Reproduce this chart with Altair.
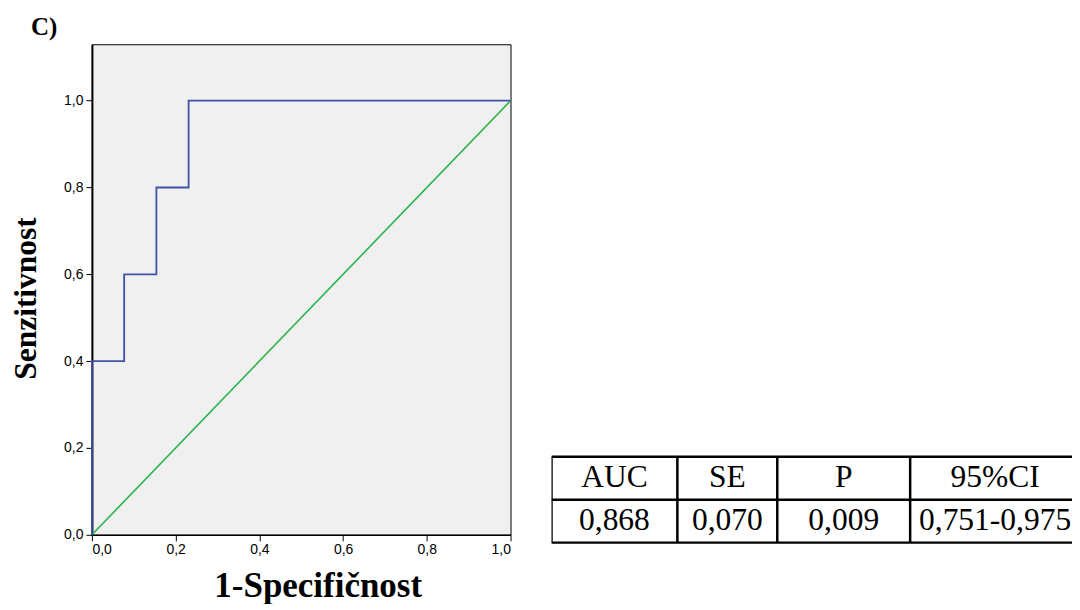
import altair as alt
import pandas as pd

# ---- data ----
fpr = [0.0, 0.0, 0.077, 0.077, 0.154, 0.154, 0.231, 0.231, 1.0]
tpr = [0.0, 0.4, 0.4, 0.6, 0.6, 0.8, 0.8, 1.0, 1.0]
ref_x = [0.0, 1.0]
ref_y = [0.0, 1.0]
tick_values = [0.0, 0.2, 0.4, 0.6, 0.8, 1.0]

headers = ["AUC", "SE", "P", "95%CI"]
values = ["0,868", "0,070", "0,009", "0,751-0,975"]

# ---- layout constants for the table (in table-panel pixels) ----
col_w = [126, 100, 133, 170]
row_h = 43
table_top = 413
TABLE_W = 521
TABLE_H = 500

serif = "Liberation Serif"
sans = "Liberation Sans"
label_expr = "replace(format(datum.value, '.1f'), '.', ',')"

roc_df = pd.DataFrame({"x": fpr, "y": tpr, "o": list(range(len(fpr)))})
ref_df = pd.DataFrame({"x": ref_x, "y": ref_y})

xs = alt.Scale(domain=[0, 1], nice=False, zero=False)
ys = alt.Scale(domain=[0, 1.13], nice=False, zero=False)

x_axis = alt.Axis(values=tick_values, labelExpr=label_expr, grid=False,
                  title="1-Specifičnost", titleFont=serif, titleFontSize=35,
                  titleFontWeight="bold", titleColor="black", titlePadding=12,
                  titleX=226, labelFont=sans, labelFontSize=14, labelColor="black",
                  tickColor="black", tickSize=6, domainColor="black", domainWidth=1.5,
                  labelPadding=2)
y_axis = alt.Axis(values=tick_values, labelExpr=label_expr, grid=False,
                  title="Senzitivnost", titleFont=serif, titleFontSize=31.5,
                  titleFontWeight="bold", titleColor="black", titlePadding=21,
                  titleY=254, labelFont=sans, labelFontSize=14, labelColor="black",
                  tickColor="black", tickSize=6, domainColor="black", domainWidth=2,
                  labelPadding=3)

diag = alt.Chart(ref_df).mark_line(color="#2bb24c", strokeWidth=1.6).encode(
    x=alt.X("x:Q", scale=xs, axis=x_axis),
    y=alt.Y("y:Q", scale=ys, axis=y_axis),
)
roc = alt.Chart(roc_df).mark_line(color="#3f51a8", strokeWidth=1.8).encode(
    x=alt.X("x:Q", scale=xs),
    y=alt.Y("y:Q", scale=ys),
    order="o:Q",
)
left = alt.layer(diag, roc).properties(
    width=419, height=491,
    view=alt.ViewBackground(fill="#f0f0f0", stroke="black", strokeWidth=1),
)

# ---- table panel ----
bounds = [0]
for w in col_w:
    bounds.append(bounds[-1] + w)
centers = [(bounds[i] + bounds[i + 1]) / 2 for i in range(len(col_w))]
line_end = bounds[-1] + 40  # table continues past the page edge

hl = pd.DataFrame({"x": [0] * 3, "x2": [line_end] * 3,
                   "y": [table_top + i * row_h for i in range(3)]})
vl = pd.DataFrame({"x": bounds[:-1], "y": [table_top] * (len(bounds) - 1),
                   "y2": [table_top + 2 * row_h] * (len(bounds) - 1)})
txt = pd.DataFrame({
    "x": centers + centers,
    "y": [table_top + 0.5 * row_h] * 4 + [table_top + 1.5 * row_h] * 4,
    "t": headers + values,
})

txs = alt.Scale(domain=[0, TABLE_W], nice=False, zero=False)
tys = alt.Scale(domain=[0, TABLE_H], nice=False, zero=False, reverse=True)

h_rules = alt.Chart(hl).mark_rule(color="black", strokeWidth=2.5, clip=True).encode(
    x=alt.X("x:Q", scale=txs, axis=None), x2="x2:Q",
    y=alt.Y("y:Q", scale=tys, axis=None))
v_rules = alt.Chart(vl).mark_rule(color="black", strokeWidth=2.5, clip=True).encode(
    x=alt.X("x:Q", scale=txs, axis=None),
    y=alt.Y("y:Q", scale=tys, axis=None), y2="y2:Q")
texts = alt.Chart(txt).mark_text(font=serif, fontSize=31.5, color="black",
                                 baseline="middle", align="center", clip=True).encode(
    x=alt.X("x:Q", scale=txs, axis=None),
    y=alt.Y("y:Q", scale=tys, axis=None), text="t:N")

right = alt.layer(h_rules, v_rules, texts).properties(
    width=TABLE_W, height=TABLE_H,
    view=alt.ViewBackground(stroke=None),
)

chart = alt.hconcat(left, right, spacing=36).properties(
    padding={"left": 2, "top": 6, "right": 0, "bottom": -1},
    title=alt.TitleParams("C)", anchor="start", font=serif, fontSize=25,
                          fontWeight="bold", color="black", dx=21, offset=4),
)

chart.save("out.html", embed_options={"renderer": "svg", "actions": False})
